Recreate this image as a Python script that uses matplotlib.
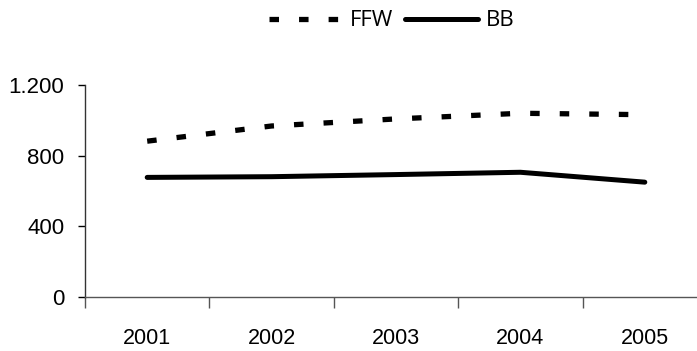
import matplotlib.pyplot as plt
from matplotlib.ticker import FuncFormatter, FixedLocator

YEARS = ["2001", "2002", "2003", "2004", "2005"]
FFW = [882, 968, 1008, 1040, 1032]
BB = [677, 681, 693, 706, 650]
Y_TICKS = [0, 400, 800, 1200]

plt.rcParams["font.family"] = ["Liberation Sans", "DejaVu Sans"]


def thousands(v, pos):
    return f"{int(v):,}".replace(",", ".")


fig = plt.figure(figsize=(6.97, 3.51), dpi=100)
ax = fig.add_axes([85 / 697, 1 - 297 / 351, 622 / 697, 212 / 351])

x = list(range(len(YEARS)))
ax.plot(x, FFW, color="black", linewidth=3.8, linestyle=(0, (1.8, 3.8)),
        dash_capstyle="butt", label="FFW")
ax.plot(x, BB, color="black", linewidth=3.6, solid_capstyle="round", label="BB")

ax.set_xlim(-0.5, len(YEARS) - 0.5)
ax.set_ylim(0, 1200)
ax.set_yticks(Y_TICKS)
ax.yaxis.set_major_formatter(FuncFormatter(thousands))

ax.set_xticks(x)
ax.set_xticklabels(YEARS)
ax.xaxis.set_minor_locator(FixedLocator([i + 0.5 for i in range(-1, len(YEARS))]))
ax.tick_params(axis="x", which="major", length=0, pad=22, labelsize=15.5)
ax.tick_params(axis="x", which="minor", length=8, width=1, color="#555555", direction="out")
ax.tick_params(axis="y", length=5, width=1, labelsize=16, pad=10)

for s in ("top", "right"):
    ax.spines[s].set_visible(False)
ax.spines["bottom"].set_color("#555555")
ax.spines["left"].set_color("#333333")
ax.spines["bottom"].set_linewidth(1)
ax.spines["left"].set_linewidth(1)

fig.legend(loc="center", bbox_to_anchor=(0.562, 1 - 21 / 351), ncol=2, frameon=False,
           handlelength=3.3, handletextpad=0.35, columnspacing=0.5,
           prop={"family": ["Open Sans", "DejaVu Sans"], "size": 16})

fig.savefig("out.png", dpi=100)
